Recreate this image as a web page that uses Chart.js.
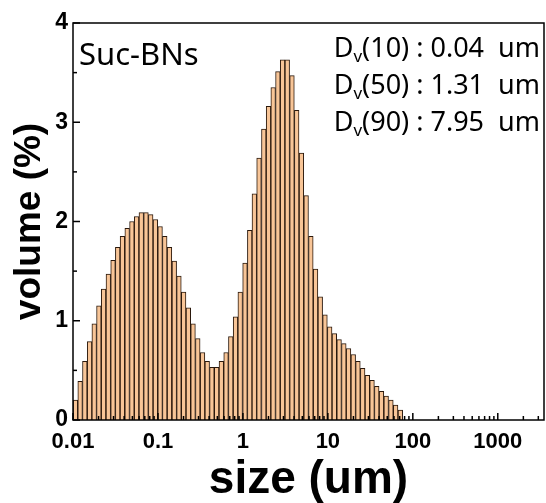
<!DOCTYPE html>
<html><head><meta charset="utf-8">
<script src="https://cdn.jsdelivr.net/npm/chart.js@4/dist/chart.umd.min.js"></script>
<style>html,body{margin:0;padding:0;background:#fff;}#wrap{width:546px;height:503px;}</style>
</head><body><div id="wrap"><canvas id="c" width="546" height="503"></canvas></div>
<script>
// size-class edges (um), one more than the number of bars
const sizeClassEdges = [0.0100,0.0114,0.0129,0.0147,0.0167,0.0189,0.0215,0.0244,0.0278,0.0315,
  0.0358,0.0407,0.0463,0.0526,0.0597,0.0679,0.0771,0.0876,0.0995,0.113,
  0.128,0.146,0.166,0.188,0.214,0.243,0.276,0.314,0.357,0.405,
  0.460,0.523,0.594,0.675,0.767,0.872,0.991,1.13,1.28,1.45,
  1.65,1.88,2.13,2.42,2.75,3.12,3.55,4.03,4.58,5.21,
  5.92,6.72,7.64,8.68,9.86,11.2,12.7,14.5,16.4,18.7,
  21.2,24.1,27.4,31.1,35.3,40.1,45.6,51.8,58.9,66.9,76.0];
// volume (%) per size class
const volumePercent = [0.20,0.39,0.59,0.79,0.97,1.15,1.32,1.47,1.61,1.74,
  1.85,1.93,2.00,2.05,2.09,2.09,2.07,2.02,1.95,1.85,
  1.74,1.60,1.45,1.29,1.13,0.97,0.82,0.68,0.59,0.53,
  0.53,0.59,0.68,0.84,1.04,1.29,1.58,1.91,2.28,2.64,
  2.93,3.16,3.35,3.51,3.63,3.63,3.47,3.12,2.69,2.26,
  1.85,1.52,1.24,1.06,0.94,0.87,0.81,0.77,0.72,0.66,
  0.59,0.52,0.45,0.40,0.34,0.29,0.24,0.20,0.15,0.10];
const xTickValues = [0.01,0.1,1,10,100,1000];
const xTickLabels = ['0.01','0.1','1','10','100','1000'];
const yTickValues = [0,1,2,3,4];
const yTickLabels = ['0','1','2','3','4'];
const xAxisTitle = 'size (um)';
const yAxisTitle = 'volume (%)';
const sampleName = 'Suc-BNs';
const dvPercentiles = ['10','50','90'];
const dvValues = ['0.04','1.31','7.95'];
const dvUnit = 'um';

const barPoints = volumePercent.map((v,i)=>({x: Math.sqrt(sizeClassEdges[i]*sizeClassEdges[i+1]), y: v}));

const decorPlugin = {
  id:'decor',
  afterDatasetsDraw(chart){
    const {ctx, chartArea:a, scales:{x, y}} = chart;
    ctx.save();
    ctx.strokeStyle = '#000';
    ctx.lineWidth = 1.5;
    for (let e = -2; e <= 3; e++) {
      for (let k = 1; k <= 9; k++) {
        const v = k * Math.pow(10, e);
        if (v < x.min || v > x.max) continue;
        const px = x.getPixelForValue(v);
        const len = k === 1 ? 7 : 4;
        ctx.beginPath(); ctx.moveTo(px, a.bottom); ctx.lineTo(px, a.bottom - len); ctx.stroke();
      }
    }
    for (let v = 0; v <= 4; v += 0.5) {
      const py = y.getPixelForValue(v);
      const len = Number.isInteger(v) ? 7 : 4;
      ctx.beginPath(); ctx.moveTo(a.left, py); ctx.lineTo(a.left + len, py); ctx.stroke();
    }
    ctx.lineWidth = 1.5;
    ctx.strokeRect(a.left, a.top, a.right - a.left, a.bottom - a.top);
    ctx.fillStyle = '#000';
    ctx.textBaseline = 'middle';
    ctx.textAlign = 'left';
    ctx.font = '31px "Noto Sans"';
    ctx.fillText(sampleName, 79, 56);
    const mainFont = '27px "Noto Sans"', subFont = '17px "Noto Sans"';
    const rightX = 540;
    dvPercentiles.forEach((p, i) => {
      const yc = 49 + i * 37;
      const rest = '(' + p + ') : ' + dvValues[i] + '  ' + dvUnit;
      ctx.font = mainFont; const wD = ctx.measureText('D').width; const wR = ctx.measureText(rest).width;
      ctx.font = subFont; const wv = ctx.measureText('v').width;
      let sx = rightX - (wD + wv + wR);
      ctx.font = mainFont; ctx.fillText('D', sx, yc); sx += wD;
      ctx.font = subFont; ctx.fillText('v', sx, yc + 8); sx += wv;
      ctx.font = mainFont; ctx.fillText(rest, sx, yc);
    });
    ctx.restore();
  }
};

new Chart(document.getElementById('c'), {
  type: 'bar',
  data: { datasets: [{
    data: barPoints,
    backgroundColor: '#F8C597',
    borderColor: '#2a180c',
    borderWidth: 1,
    barPercentage: 1,
    categoryPercentage: 1
  }]},
  options: {
    responsive: false, animation: false, devicePixelRatio: 1,
    layout: { padding: { left: 0, right: 2, top: 23, bottom: 0 } },
    plugins: { legend: { display: false }, tooltip: { enabled: false } },
    scales: {
      x: {
        type: 'logarithmic', min: 0.01, max: 3500, offset: false,
        grid: { display: false, drawTicks: false, offset: false }, border: { display: false },
        afterBuildTicks(s) { s.ticks = xTickValues.map(v => ({ value: v })); },
        afterFit(s) { s.height = 83; },
        ticks: { autoSkip: false, maxRotation: 0, padding: 9, color: '#000',
          font: { family: 'Liberation Sans', size: 22, weight: 'bold' },
          callback: (v, i) => xTickLabels[i] },
        title: { display: true, text: xAxisTitle, color: '#000',
          font: { family: 'Liberation Sans', size: 46, weight: 'bold', lineHeight: 1.0 },
          padding: { top: 0, bottom: 0 } }
      },
      y: {
        type: 'linear', min: 0, max: 4,
        grid: { display: false, drawTicks: false }, border: { display: false },
        afterBuildTicks(s) { s.ticks = yTickValues.map(v => ({ value: v })); },
        afterFit(s) { s.width = 73; },
        ticks: { padding: 5, color: '#000',
          font: { family: 'Liberation Sans', size: 23, weight: 'bold' },
          callback: (v, i) => yTickLabels[i] },
        title: { display: true, text: yAxisTitle, color: '#000',
          font: { family: 'Liberation Sans', size: 37, weight: 'bold', lineHeight: 1.2 },
          padding: { top: 8, bottom: 0 } }
      }
    }
  },
  plugins: [decorPlugin]
});
</script></body></html>
